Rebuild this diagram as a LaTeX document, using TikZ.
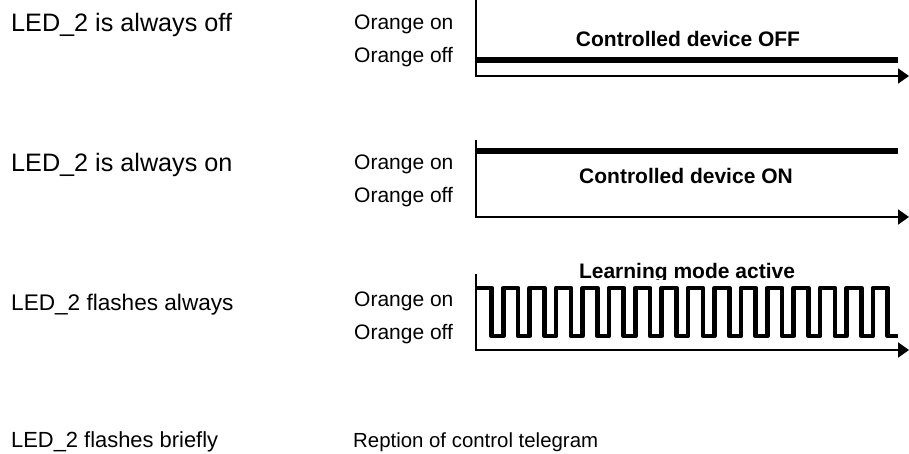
\documentclass[tikz,border=0pt]{standalone}
\usepackage{fontspec}
\setmainfont{Liberation Sans}
\usetikzlibrary{arrows.meta}
\begin{document}
\begin{tikzpicture}[x=1pt,y=-1pt,
  lbl/.style={anchor=base west,inner sep=0pt,font=\fontsize{25.2}{29}\selectfont},
  lblmid/.style={anchor=base west,inner sep=0pt,font=\fontsize{22.6}{27}\selectfont},
  lblsmall/.style={anchor=base west,inner sep=0pt,font=\fontsize{21.9}{26}\selectfont},
  lbltel/.style={anchor=base west,inner sep=0pt,font=\fontsize{20.4}{25}\selectfont},
  lvl/.style={anchor=base west,inner sep=0pt,font=\fontsize{21}{25}\selectfont},
  state/.style={anchor=base,inner sep=0pt,font=\bfseries\fontsize{21}{25}\selectfont},
  axisline/.style={line width=2pt,-{Triangle[length=11pt,width=15pt]}},
  signal/.style={line width=5.3pt},
  wave/.style={line width=4.7pt,line join=round}]
\useasboundingbox[fill=white] (0,0) rectangle (909,454);

% panel 1
\node[lbl] (l1) at (11,32) {LED\_2 is always off};
\node[lvl] (on1) at (354,30) {Orange on};
\node[lvl] (off1) at (354,63) {Orange off};
\node[state] (s1) at (688,47) {Controlled device OFF};
\coordinate (t1) at (476,0);
\coordinate (o1) at (476,76);
\coordinate (e1) at (909,76);
\coordinate (a1) at (476,60);
\coordinate (b1) at (898,60);
\draw[axisline] (t1) -- (o1) -- (e1);
\draw[signal] (a1) -- (b1);

% panel 2
\node[lbl] (l2) at (11,172) {LED\_2 is always on};
\node[lvl] (on2) at (354,170) {Orange on};
\node[lvl] (off2) at (354,203) {Orange off};
\node[state] (s2) at (686,184) {Controlled device ON};
\coordinate (t2) at (476,140);
\coordinate (o2) at (476,217);
\coordinate (e2) at (909,217);
\coordinate (a2) at (476,151);
\coordinate (b2) at (898,151);
\draw[axisline] (t2) -- (o2) -- (e2);
\draw[signal] (a2) -- (b2);

% panel 3
\node[lblmid] (l3) at (11,310) {LED\_2 flashes always};
\node[lvl] (on3) at (354,306) {Orange on};
\node[lvl] (off3) at (354,339) {Orange off};
\begin{scope}
\clip (540,250) rectangle (840,279);
\node[state] (s3) at (687,278) {Learning mode active};
\end{scope}
\coordinate (t3) at (476,274);
\coordinate (o3) at (476,350);
\coordinate (e3) at (909,350);
\coordinate (w0) at (476,288);
\coordinate (w1) at (898,336);
\draw[axisline] (t3) -- (o3) -- (e3);
\draw[wave] (w0) foreach \k in {0,...,14} { -- ({491.7+26.4*\k},288) -- ++(0,48) -- ++(11.6,0) -- ++(0,-48) } -- (887.7,288) -- (887.7,336) -- (w1);

% panel 4
\node[lblsmall] (l4) at (11,447) {LED\_2 flashes briefly};
\node[lbltel] (r4) at (353,447) {Reption of control telegram};
\end{tikzpicture}
\end{document}
